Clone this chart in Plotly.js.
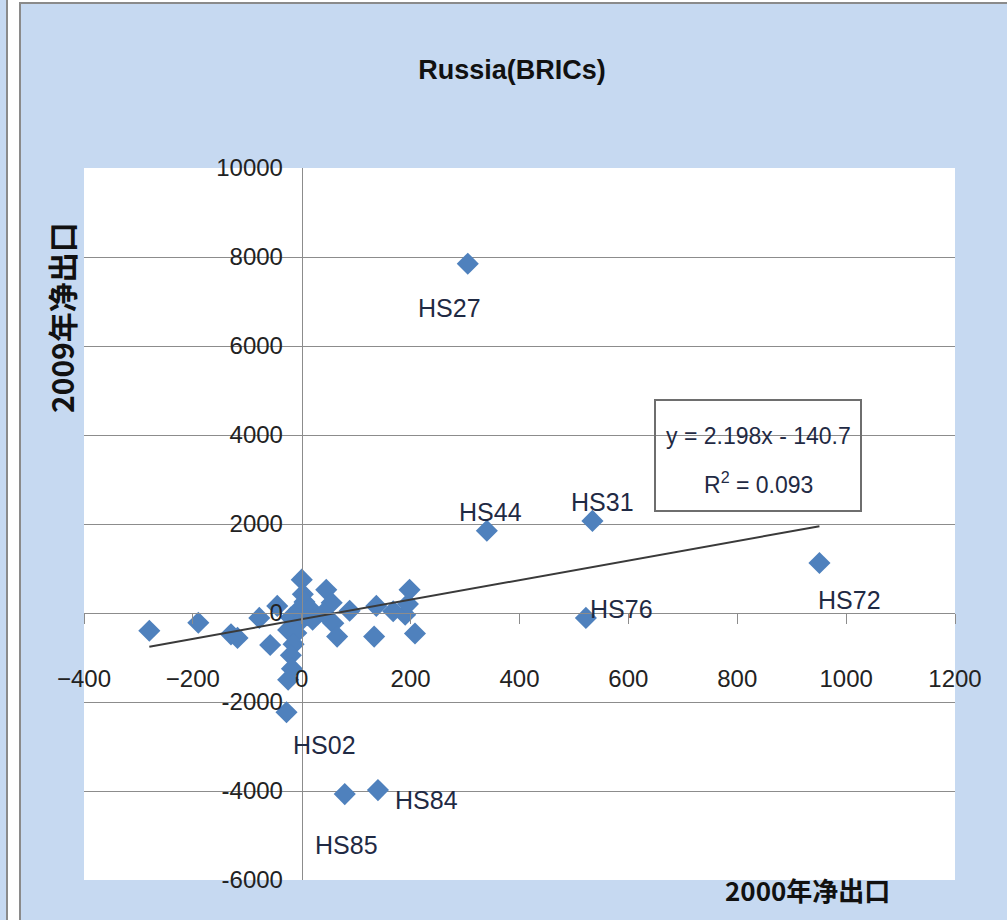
<!DOCTYPE html>
<html>
<head>
<meta charset="utf-8">
<script src="https://cdn.plot.ly/plotly-3.0.1.min.js"></script>
<style>
  html, body { margin: 0; padding: 0; background: #ffffff; width: 1007px; height: 920px; overflow: hidden; }
  #strip { position: absolute; left: 0; top: 0; width: 6px; height: 920px; background: #c6d9f1; border-right: 2px solid #8a8a8a; }
  #chart { position: absolute; left: 19px; top: 2px; width: 986px; height: 916px; border-left: 2px solid #8a8a8a; border-top: 2px solid #8a8a8a; }
</style>
</head>
<body>
<div id="strip"></div>
<div id="chart"></div>
<script>
// ---- data ----
const netExport2000 = [-280, -190, -130, -118, -78, -58, -45, -25, -20,
  0, 2, 5, -5, 10, -8, -10, -15, -20, -18, -25, -28, 15, 20,
  45, 55, 58, 65, 88, 40, 137, 133, 168, 190, 198, 195, 208,
  305, 340, 534, 522, 951, 79, 140];
const netExport2009 = [-400, -220, -480, -560, -110, -720, 160, -380, -100,
  750, 420, 250, 80, -50, -250, -450, -700, -950, -1250, -1500, -2230, 100, -150,
  520, 230, -230, -530, 50, 0, 160, -530, 40, -40, 520, 200, -460,
  7850, 1850, 2070, -110, 1125, -4070, -3980];
const pointLabels = ['', '', '', '', '', '', '', '', '',
  '', '', '', '', '', '', '', '', '', '', '', 'HS02', '', '',
  '', '', '', '', '', '', '', '', '', '', '', '', '',
  'HS27', 'HS44', 'HS31', 'HS76', 'HS72', 'HS85', 'HS84'];
const trendSlope = 2.198;
const trendIntercept = -140.7;
const trendR2 = 0.093;
const xTickVals = [-400, -200, 0, 200, 400, 600, 800, 1000, 1200];
const xTickLabels = ['\u2212400', '\u2212200', '0', '200', '400', '600', '800', '1000', '1200'];
const yTickVals = [-6000, -4000, -2000, 0, 2000, 4000, 6000, 8000, 10000];
const yTickLabels = ['-6000', '-4000', '-2000', '0', '2000', '4000', '6000', '8000', '10000'];
const chartTitle = 'Russia(BRICs)';
const xTitle = '2000年净出口';
const yTitle = '2009年净出口';

// ---- label offsets (style, pixels) ----
const labelShift = {
  'HS02': [38, -33], 'HS27': [-18, -44], 'HS44': [4, 19], 'HS31': [10, 19],
  'HS76': [36, 9], 'HS72': [30, -37], 'HS85': [2, -51], 'HS84': [49, -10]
};

const sans = '"Liberation Sans", Arial, sans-serif';
const cjk = '"Noto Sans CJK SC", "Noto Sans", sans-serif';

const xMin = Math.min(...netExport2000);
const xMax = Math.max(...netExport2000);

const traces = [
  {
    type: 'scatter', mode: 'markers',
    x: netExport2000, y: netExport2009,
    marker: { symbol: 'diamond', size: 17, color: '#4f81bd', line: { width: 0 } },
    hoverinfo: 'x+y', showlegend: false
  },
  {
    type: 'scatter', mode: 'lines',
    x: [xMin, xMax],
    y: [trendSlope * xMin + trendIntercept, trendSlope * xMax + trendIntercept],
    line: { color: '#3a3a3a', width: 2 },
    hoverinfo: 'skip', showlegend: false
  }
];

const annotations = [];
pointLabels.forEach((lab, i) => {
  if (!lab) return;
  const s = labelShift[lab] || [0, 0];
  annotations.push({
    x: netExport2000[i], y: netExport2009[i], xref: 'x', yref: 'y',
    text: lab, showarrow: false, xshift: s[0], yshift: s[1],
    font: { family: sans, size: 25, color: '#1f2a44' }
  });
});

// trendline equation box
const eqX = 839, eqY = 3530;
annotations.push({
  x: eqX, y: eqY, xref: 'x', yref: 'y',
  text: ' ', showarrow: false,
  width: 204, height: 109,
  bordercolor: '#6e6e6e', borderwidth: 2, borderpad: 0
});
annotations.push({
  x: eqX, y: eqY, xref: 'x', yref: 'y', yshift: 20,
  text: 'y = ' + trendSlope.toFixed(3) + 'x - ' + Math.abs(trendIntercept).toFixed(1),
  showarrow: false,
  font: { family: sans, size: 23, color: '#1f2a44' }
});
annotations.push({
  x: eqX, y: eqY, xref: 'x', yref: 'y', yshift: -27,
  text: 'R<sup>2</sup> = ' + trendR2.toFixed(3),
  showarrow: false,
  font: { family: sans, size: 23, color: '#1f2a44' }
});

annotations.push({
  x: -0.027, y: 0.79, xref: 'paper', yref: 'paper',
  text: '<b>' + yTitle + '</b>', textangle: -90, showarrow: false,
  xanchor: 'center', yanchor: 'middle',
  font: { family: cjk, size: 30, color: '#111111' }
});

annotations.push({
  x: 0.831, y: -0.014, xref: 'paper', yref: 'paper',
  text: '<b>' + xTitle + '</b>', showarrow: false,
  xanchor: 'center', yanchor: 'middle',
  font: { family: cjk, size: 26, color: '#111111' }
});

const layout = {
  width: 986, height: 916,
  paper_bgcolor: '#c6d9f1', plot_bgcolor: '#ffffff',
  margin: { l: 63, r: 52, t: 164, b: 40, pad: 0 },
  title: {
    text: '<b>' + chartTitle + '</b>',
    x: 0.498, xref: 'container', xanchor: 'center',
    y: 0.928, yref: 'container', yanchor: 'middle',
    font: { family: sans, size: 27, color: '#111111' }
  },
  xaxis: {
    range: [-400, 1200], anchor: 'free', position: 0.375,
    tickvals: xTickVals, ticktext: xTickLabels,
    showgrid: false, zeroline: false,
    showline: true, linecolor: '#8c8c8c', linewidth: 1,
    ticks: 'outside', ticklen: 10, tickcolor: '#8c8c8c',
    ticklabelstandoff: 34,
    tickfont: { family: sans, size: 24, color: '#222222' },
    fixedrange: true
  },
  yaxis: {
    range: [-6000, 10000], anchor: 'free', position: 0.25,
    tickvals: yTickVals, ticktext: yTickLabels,
    showgrid: true, gridcolor: '#8c8c8c', gridwidth: 1,
    zeroline: false,
    showline: true, linecolor: '#8c8c8c', linewidth: 1,
    ticks: '', ticklabelstandoff: 14,
    tickfont: { family: sans, size: 24, color: '#222222' },
    fixedrange: true
  },
  annotations: annotations,
  showlegend: false
};

Plotly.newPlot('chart', traces, layout, { displayModeBar: false });
</script>
</body>
</html>
